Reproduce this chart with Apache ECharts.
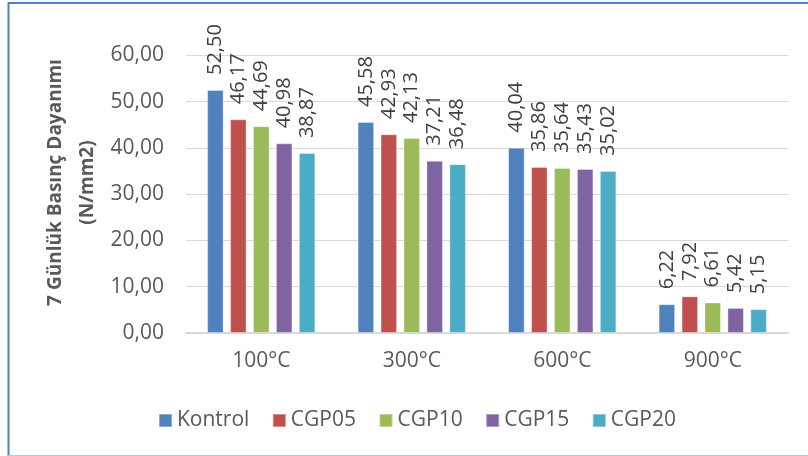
<!DOCTYPE html>
<html>
<head>
<meta charset="utf-8">
<script src="https://cdn.jsdelivr.net/npm/echarts@6/dist/echarts.min.js"></script>
<style>
  html, body { margin: 0; padding: 0; background: #ffffff; }
  #chart { width: 808px; height: 456px; }
</style>
</head>
<body>
<div id="chart"></div>
<script>
// Temperature groups along the x axis
const categories = ['100°C', '300°C', '600°C', '900°C'];

// 7-day compressive strength (N/mm2) per mix
const kontrol = [52.50, 45.58, 40.04, 6.22];
const cgp05   = [46.17, 42.93, 35.86, 7.92];
const cgp10   = [44.69, 42.13, 35.64, 6.61];
const cgp15   = [40.98, 37.21, 35.43, 5.42];
const cgp20   = [38.87, 36.48, 35.02, 5.15];

const seriesNames = ['Kontrol', 'CGP05', 'CGP10', 'CGP15', 'CGP20'];
const seriesData = [kontrol, cgp05, cgp10, cgp15, cgp20];
const seriesColors = ['#4f81bd', '#c0504d', '#9bbb59', '#8064a2', '#4bacc6'];

// Y axis ticks
const yMin = 0, yMax = 60, yStep = 10;

const FONT = '"Open Sans", "Noto Sans", sans-serif';
const fmt = v => Number(v).toFixed(2).replace('.', ',');

const chart = echarts.init(document.getElementById('chart'), null, { renderer: 'canvas' });

const series = seriesNames.map((name, i) => ({
  name,
  type: 'bar',
  data: seriesData[i],
  barWidth: 16.5,
  barGap: '39%',
  itemStyle: {
    color: seriesColors[i],
    borderColor: 'rgba(255,255,255,0.35)',
    borderWidth: 1
  },
  label: {
    show: true,
    position: 'top',
    rotate: 90,
    align: 'left',
    verticalAlign: 'middle',
    distance: 15,
    color: '#404040',
    fontFamily: FONT,
    fontSize: 20,
    formatter: p => fmt(p.value)
  }
}));

chart.setOption({
  animation: false,
  backgroundColor: '#ffffff',
  textStyle: { fontFamily: FONT },
  grid: { left: 186, top: 55.3, width: 602, height: 277.7, containLabel: false },
  xAxis: {
    type: 'category',
    data: categories,
    axisLine: { lineStyle: { color: '#d9d9d9', width: 2 } },
    axisTick: { show: false },
    axisLabel: { color: '#595959', fontSize: 21, fontFamily: FONT, margin: 18 }
  },
  yAxis: {
    type: 'value',
    min: yMin,
    max: yMax,
    interval: yStep,
    axisLine: { show: false },
    axisTick: { show: false },
    splitLine: { lineStyle: { color: '#d9d9d9', width: 1 } },
    axisLabel: { color: '#595959', fontSize: 21, fontFamily: FONT, margin: 22, formatter: v => fmt(v) }
  },
  legend: {
    data: seriesNames,
    left: 153,
    top: 405,
    icon: 'rect',
    itemWidth: 13,
    itemHeight: 13,
    itemGap: 22.5,
    textStyle: { color: '#595959', fontSize: 21, fontFamily: FONT }
  },
  graphic: [
    {
      type: 'text',
      x: 72,
      y: 182.5,
      rotation: Math.PI / 2,
      style: {
        text: '7 Günlük Basınç Dayanımı\n(N/mm2)',
        fill: '#595959',
        font: 'bold 19px ' + FONT,
        textAlign: 'center',
        textVerticalAlign: 'middle',
        lineHeight: 32
      }
    },
    // chart frame
    { type: 'line', shape: { x1: 8, y1: 3, x2: 808, y2: 3 }, style: { stroke: '#4f81bd', lineWidth: 2 } },
    { type: 'line', shape: { x1: 8.5, y1: 2, x2: 8.5, y2: 456 }, style: { stroke: '#4f81bd', lineWidth: 2 } },
    { type: 'line', shape: { x1: 8, y1: 455.5, x2: 808, y2: 455.5 }, style: { stroke: '#b8c7dc', lineWidth: 1 } }
  ],
  series
});
</script>
</body>
</html>
